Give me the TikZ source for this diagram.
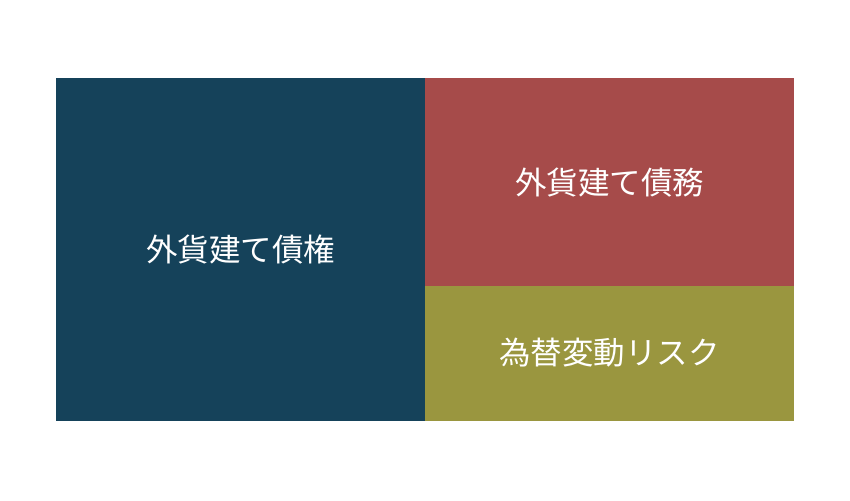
\documentclass[tikz,border=0pt]{standalone}
\usepackage{fontspec}
\newfontfamily\jpfont{Noto Sans CJK JP}
\definecolor{claimblue}{HTML}{15425A}
\definecolor{debtred}{HTML}{A64B4A}
\definecolor{riskolive}{HTML}{9A963F}
\tikzset{
    blocklabel/.style={text=white,font=\jpfont\fontsize{31.5}{36}\selectfont}
}
\begin{document}
\begin{tikzpicture}[x=1pt,y=-1pt]
    \useasboundingbox (0,0) rectangle (850,500);

    % claims (left)
    \fill[claimblue] (56,78) rectangle (425,421);
    \node[blocklabel] (claim) at (240.5,250) {外貨建て債権};

    % debts (top right)
    \fill[debtred] (425,78) rectangle (794,286);
    \node[blocklabel] (debt) at (609.5,183) {外貨建て債務};

    % exchange risk (bottom right)
    \fill[riskolive] (425,286) rectangle (794,421);
    \node[blocklabel] (risk) at (609.5,353) {為替変動リスク};
\end{tikzpicture}
\end{document}
